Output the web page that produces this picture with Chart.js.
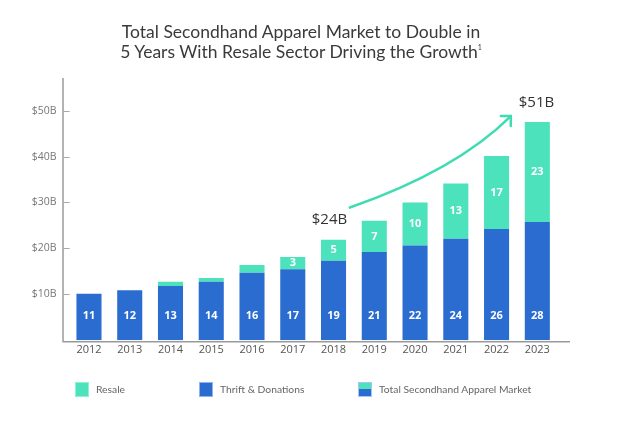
<!DOCTYPE html>
<html>
<head>
<meta charset="utf-8">
<script src="https://cdn.jsdelivr.net/npm/chart.js@4/dist/chart.umd.min.js"></script>
<style>
  html, body { margin: 0; padding: 0; background: #fff; }
  #wrap { position: relative; width: 640px; height: 422px; overflow: hidden; }
  #chartBox { position: absolute; left: 0; top: 0; width: 640px; height: 422px; }
  #title { position: absolute; left: 0; top: 22px; width: 602px; text-align: center;
           font-family: Lato, "Open Sans", sans-serif; font-size: 17.5px; line-height: 20px; color: #3a3a3a; }
  #title sup { font-size: 7px; vertical-align: 8px; line-height: 0; }
  .lg { position: absolute; top: 381px; height: 16px; display: flex; align-items: center;
        font-family: Lato, "Open Sans", sans-serif; font-size: 10.3px; color: #666; }
  .sw { width: 14px; height: 15px; margin-right: 7px; box-sizing: border-box; }
</style>
</head>
<body>
<div id="wrap">
  <div id="chartBox"><canvas id="c"></canvas></div>
  <div id="title">Total Secondhand Apparel Market to Double in<br>5 Years With Resale Sector Driving the Growth<sup>1</sup></div>
  <div id="legend"></div>
</div>
<script>
// ---- Data ----
const years = ['2012','2013','2014','2015','2016','2017','2018','2019','2020','2021','2022','2023'];
const thriftValues = [10.1, 10.9, 11.8, 12.75, 14.7, 15.45, 17.3, 19.2, 20.6, 22.1, 24.2, 25.75];
const resaleValues = [0, 0, 0.95, 0.8, 1.7, 2.65, 4.6, 6.8, 9.4, 12.0, 15.9, 21.75];
const thriftLabels = ['11','12','13','14','16','17','19','21','22','24','26','28'];
const resaleLabels = [null, null, null, null, null, '3','5','7','10','13','17','23'];
const yTickValues = [10, 20, 30, 40, 50];
const yTickLabels = ['$10B', '$20B', '$30B', '$40B', '$50B'];
const legendLabels = ['Resale', 'Thrift & Donations', 'Total Secondhand Apparel Market'];
const calloutTexts = ['$24B', '$51B'];
const calloutAnchors = [[5.9, 26.2], [10.98, 51.8]];   // [category index, value]
const arrowPath = [[6.4, 28.9], [9.0, 36.9], [10.35, 48.8]]; // start, control, end

const BLUE = '#2b6cd0';
const TEAL = '#4be2bc';
const ARROW = '#3fdcb2';

// ---- Legend (HTML) ----
const legendLefts = [75, 199, 358];
const legendEl = document.getElementById('legend');
legendLabels.forEach((t, i) => {
  const d = document.createElement('div');
  d.className = 'lg';
  d.style.left = legendLefts[i] + 'px';
  const s = document.createElement('div');
  s.className = 'sw';
  if (i === 0) { s.style.background = TEAL; s.style.border = '1px solid #8ef0d6'; }
  else if (i === 1) { s.style.background = BLUE; s.style.border = '1px solid #8fb3ee'; }
  else { s.style.background = 'linear-gradient(' + TEAL + ' 0 45%, ' + BLUE + ' 45% 100%)'; s.style.border = '1px solid #a9c6f2'; }
  d.appendChild(s);
  const sp = document.createElement('span');
  sp.textContent = t;
  d.appendChild(sp);
  legendEl.appendChild(d);
});

// ---- Overlay plugin ----
const overlay = {
  id: 'overlay',
  afterDatasetsDraw(chart) {
    const ctx = chart.ctx;
    const xs = chart.scales.x, ys = chart.scales.y;
    const ca = chart.chartArea;
    const zeroY = ys.getPixelForValue(0);
    ctx.save();
    // axis lines
    ctx.strokeStyle = '#9a9a9a';
    ctx.lineWidth = 1.5;
    ctx.beginPath();
    ctx.moveTo(ca.left - 5.6, ca.top);
    ctx.lineTo(ca.left - 5.6, zeroY + 1.5);
    ctx.lineTo(ca.right + 12.3, zeroY + 1.5);
    ctx.stroke();
    // tick marks (inward)
    ctx.strokeStyle = '#aaaaaa';
    ctx.lineWidth = 1;
    yTickValues.forEach(v => {
      const y = Math.round(ys.getPixelForValue(v)) + 0.5;
      ctx.beginPath();
      ctx.moveTo(ca.left - 5.6, y);
      ctx.lineTo(ca.left + 1, y);
      ctx.stroke();
    });
    // data labels
    ctx.fillStyle = '#ffffff';
    ctx.font = 'bold 11px "Open Sans", Lato, sans-serif';
    ctx.textAlign = 'center';
    ctx.textBaseline = 'middle';
    const thriftMeta = chart.getDatasetMeta(0);
    const resaleMeta = chart.getDatasetMeta(1);
    thriftMeta.data.forEach((bar, i) => {
      ctx.fillText(thriftLabels[i], bar.x, ys.getPixelForValue(5.3));
    });
    resaleMeta.data.forEach((bar, i) => {
      if (!resaleLabels[i]) return;
      ctx.fillText(resaleLabels[i], bar.x, (bar.y + bar.base) / 2);
    });
    // arrow
    const P = arrowPath.map(p => [xs.getPixelForValue(p[0]), ys.getPixelForValue(p[1])]);
    ctx.strokeStyle = ARROW;
    ctx.lineWidth = 2.5;
    ctx.lineCap = 'round';
    ctx.beginPath();
    ctx.moveTo(P[0][0], P[0][1]);
    ctx.quadraticCurveTo(P[1][0], P[1][1], P[2][0], P[2][1]);
    ctx.stroke();
    const ang = Math.atan2(P[2][1] - P[1][1], P[2][0] - P[1][0]);
    const hl = 10;
    ctx.beginPath();
    ctx.moveTo(P[2][0] - hl * Math.cos(ang - Math.PI / 4), P[2][1] - hl * Math.sin(ang - Math.PI / 4));
    ctx.lineTo(P[2][0], P[2][1]);
    ctx.lineTo(P[2][0] - hl * Math.cos(ang + Math.PI / 4), P[2][1] - hl * Math.sin(ang + Math.PI / 4));
    ctx.stroke();
    // callouts
    ctx.fillStyle = '#333333';
    ctx.font = '500 15px "Open Sans", "Noto Sans", sans-serif';
    calloutTexts.forEach((t, i) => {
      const a = calloutAnchors[i];
      ctx.fillText(t, xs.getPixelForValue(a[0]), ys.getPixelForValue(a[1]));
    });
    ctx.restore();
  }
};

new Chart(document.getElementById('c'), {
  type: 'bar',
  data: {
    labels: years,
    datasets: [
      { label: legendLabels[1], data: thriftValues, backgroundColor: BLUE, borderWidth: 0, stack: 's' },
      { label: legendLabels[0], data: resaleValues, backgroundColor: TEAL, borderWidth: 0, stack: 's' }
    ]
  },
  options: {
    responsive: true,
    maintainAspectRatio: false,
    animation: false,
    devicePixelRatio: 1,
    layout: { padding: { top: 78, right: 82.3, bottom: 0, left: 0 } },
    plugins: { legend: { display: false }, tooltip: { enabled: false }, title: { display: false } },
    datasets: { bar: { barPercentage: 0.615, categoryPercentage: 1.0 } },
    scales: {
      x: {
        stacked: true,
        grid: { display: false, drawTicks: false },
        border: { display: false },
        ticks: { color: '#555', font: { family: '"Open Sans", sans-serif', size: 11 }, padding: 3, maxRotation: 0 },
        afterFit(s) { s.height = 422 - 340.2; }
      },
      y: {
        stacked: true,
        min: 0,
        max: 57.1,
        grid: { display: false, drawTicks: false },
        border: { display: false },
        afterBuildTicks(s) { s.ticks = yTickValues.map(v => ({ value: v })); },
        ticks: {
          color: '#777',
          font: { family: '"Open Sans", sans-serif', size: 10.5 },
          padding: 12,
          callback: (v) => { const k = yTickValues.indexOf(v); return k >= 0 ? yTickLabels[k] : ''; }
        },
        afterFit(s) { s.width = 68.6; }
      }
    }
  },
  plugins: [overlay]
});
</script>
</body>
</html>
